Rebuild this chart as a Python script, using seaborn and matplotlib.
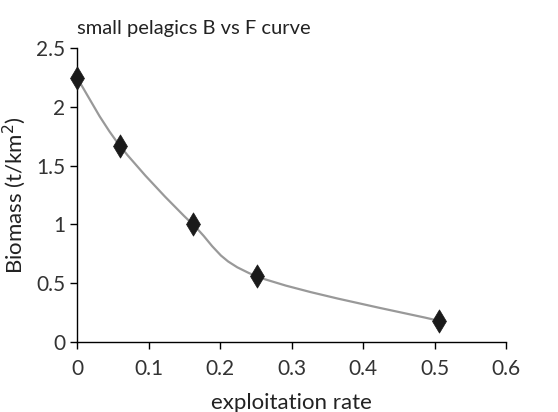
import numpy as np
import matplotlib
matplotlib.use('Agg')
import matplotlib.pyplot as plt
from matplotlib.path import Path
from matplotlib.patches import PathPatch
import seaborn as sns

exploitation = [0.0, 0.06, 0.162, 0.251, 0.506]
biomass = [2.25, 1.67, 1.0, 0.56, 0.18]

sns.set_style('ticks')
plt.rcParams['font.family'] = ['Lato', 'DejaVu Sans']

fig = plt.figure(figsize=(5.58, 4.12), dpi=100)
ax = fig.add_axes([0.138, 0.170, 0.769, 0.713])

# smoothed line (catmull-rom style bezier, like excel's smoothed line)
pts = np.column_stack([exploitation, biomass])
verts = [pts[0]]
codes = [Path.MOVETO]
for i in range(len(pts) - 1):
    p0 = pts[max(i - 1, 0)]
    p1 = pts[i]
    p2 = pts[i + 1]
    p3 = pts[min(i + 2, len(pts) - 1)]
    c1 = p1 + (p2 - p0) / 6
    c2 = p2 - (p3 - p1) / 6
    verts += [c1, c2, p2]
    codes += [Path.CURVE4] * 3
ax.add_patch(PathPatch(Path(verts, codes), facecolor='none', edgecolor='#999999', lw=1.6, zorder=2))

sns.scatterplot(x=exploitation, y=biomass, marker='d', s=140, color='#1a1a1a',
                edgecolor='#1a1a1a', linewidth=0.5, ax=ax, zorder=3, clip_on=False)

ax.set_xlim(0, 0.6)
ax.set_ylim(0, 2.5)
ax.set_xticks([0, 0.1, 0.2, 0.3, 0.4, 0.5, 0.6])
ax.set_xticklabels(['0', '0.1', '0.2', '0.3', '0.4', '0.5', '0.6'])
ax.set_yticks([0, 0.5, 1, 1.5, 2, 2.5])
ax.set_yticklabels(['0', '0.5', '1', '1.5', '2', '2.5'])
ax.tick_params(axis='both', labelsize=15, length=5, width=1, color='black', labelcolor='#333333')
ax.tick_params(axis='x', pad=7)
for s in ['left', 'bottom']:
    ax.spines[s].set_color('black')
    ax.spines[s].set_linewidth(1)
sns.despine(ax=ax)

ax.set_xlabel('exploitation rate', fontsize=16, color='#222222', labelpad=10)
ax.set_ylabel('Biomass (t/km$^2$)', fontsize=16, color='#222222', labelpad=6)
ax.set_title('small pelagics B vs F curve', fontsize=14.5, loc='left', color='#222222', pad=10)

fig.savefig('out.png', dpi=100)
